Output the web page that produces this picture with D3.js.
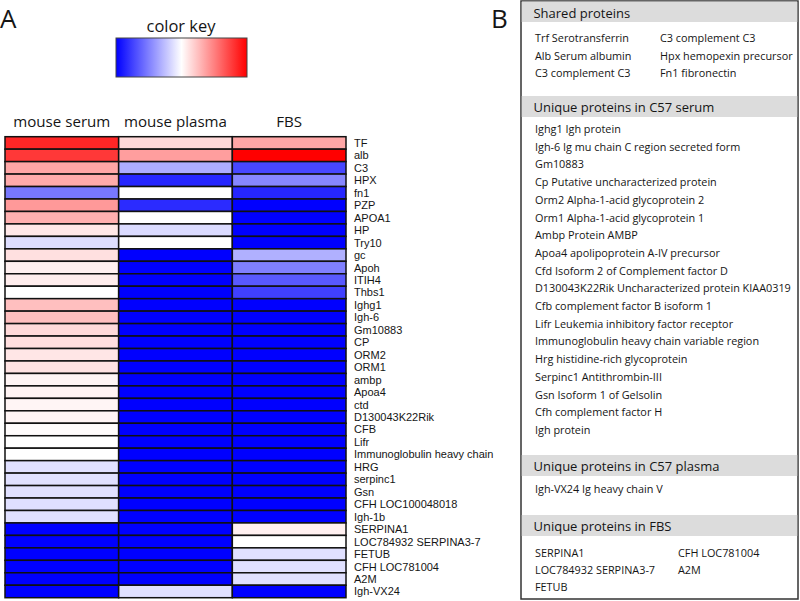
<!DOCTYPE html>
<html><head><meta charset="utf-8">
<script src="https://cdn.jsdelivr.net/npm/d3@7"></script>
<style>body{margin:0;background:#fff}svg{display:block}</style>
</head><body>
<script>
const samples = ["mouse serum", "mouse plasma", "FBS"];
const proteins = ["TF","alb","C3","HPX","fn1","PZP","APOA1","HP","Try10","gc","Apoh","ITIH4","Thbs1",
  "Ighg1","Igh-6","Gm10883","CP","ORM2","ORM1","ambp","Apoa4","ctd","D130043K22Rik","CFB","Lifr",
  "Immunoglobulin heavy chain","HRG","serpinc1","Gsn","CFH LOC100048018","Igh-1b","SERPINA1",
  "LOC784932 SERPINA3-7","FETUB","CFH LOC781004","A2M","Igh-VX24"];
// relative abundance, -1 (blue) .. 0 (white) .. 1 (red)
const serumValues = [0.85,0.78,0.35,0.33,-0.53,0.40,0.31,0.09,-0.13,0.12,0.06,0.07,0.00,
  0.25,0.25,0.15,0.13,0.10,0.11,0.04,0.045,0.04,0.04,0.01,0.0,0.0,-0.12,-0.12,-0.12,-0.12,-0.12,
  -1,-1,-1,-1,-1,-1];
const plasmaValues = [0.15,0.38,-0.32,-0.85,0.0,-0.83,0.0,-0.14,0.0,-1,-1,-1,-1,
  -1,-1,-1,-1,-1,-1,-1,-1,-1,-1,-1,-1,-1,-1,-1,-1,-1,-1,
  -1,-1,-1,-1,-1,-0.12];
const fbsValues = [0.35,1.0,-0.72,-0.47,-0.85,-1,-1,-1,-1,-0.31,-0.5,-0.65,-0.75,
  -1,-1,-1,-1,-1,-1,-1,-1,-1,-1,-1,-1,-1,-1,-1,-1,-1,-1,
  0.06,0.0,-0.12,-0.12,-0.12,-1];

const sharedProteins = ["Trf Serotransferrin","Alb Serum albumin","C3 complement C3",
  "C3 complement C3","Hpx hemopexin precursor","Fn1 fibronectin"];
const serumUnique = ["Ighg1 Igh protein","Igh-6 Ig mu chain C region secreted form","Gm10883",
  "Cp Putative uncharacterized protein","Orm2 Alpha-1-acid glycoprotein 2","Orm1 Alpha-1-acid glycoprotein 1",
  "Ambp Protein AMBP","Apoa4 apolipoprotein A-IV precursor","Cfd Isoform 2 of Complement factor D",
  "D130043K22Rik Uncharacterized protein KIAA0319","Cfb complement factor B isoform 1",
  "Lifr Leukemia inhibitory factor receptor","Immunoglobulin heavy chain variable region",
  "Hrg histidine-rich glycoprotein","Serpinc1 Antithrombin-III","Gsn Isoform 1 of Gelsolin",
  "Cfh complement factor H","Igh protein"];
const plasmaUnique = ["Igh-VX24 Ig heavy chain V"];
const fbsUnique = ["SERPINA1","LOC784932 SERPINA3-7","FETUB","CFH LOC781004","A2M"];

const W = 800, H = 601, FONT = "'Open Sans', sans-serif", LFONT = "'Liberation Sans', Arial, sans-serif", TXT = "#151515";
const svg = d3.select("body").append("svg").attr("width", W).attr("height", H)
  .style("font-family", FONT);

function fitSize(text, target, base, family) {
  const t = svg.append("text").attr("font-size", base).text(text);
  if (family) t.style("font-family", family);
  const w = t.node().getComputedTextLength();
  t.remove();
  return base * target / w;
}
const labelSize = Math.min(11, fitSize("Immunoglobulin heavy chain", 151, 12, LFONT));
const headSize = fitSize("mouse plasma", 103, 16);
const keySize = fitSize("color key", 69, 14);
const bHeadSize = fitSize("Unique proteins in C57 serum", 181, 15);
const bItemSize = fitSize("D130043K22Rik Uncharacterized protein KIAA0319", 256, 12);

// Panel letters
svg.append("text").attr("x", 0).attr("y", 28).attr("font-size", 26).attr("fill", TXT).text("A");
svg.append("text").attr("x", 491).attr("y", 28).attr("font-size", 26).attr("fill", TXT).text("B");

// colour scale
const color = d3.scaleLinear().domain([-1, 0, 1]).range(["#0000ff", "#ffffff", "#ff0000"]);

// colour key
const grad = svg.append("defs").append("linearGradient").attr("id", "ck");
d3.range(0, 1.0001, 0.05).forEach(t => grad.append("stop")
  .attr("offset", t).attr("stop-color", color(-1 + 2 * t)));
svg.append("text").attr("x", 181).attr("y", 32).attr("text-anchor", "middle")
  .attr("font-size", keySize).attr("fill", TXT).text("color key");
svg.append("rect").attr("x", 116).attr("y", 38).attr("width", 131).attr("height", 39)
  .attr("fill", "url(#ck)").attr("stroke", "#444").attr("stroke-width", 1);

// heatmap
const x = d3.scaleBand().domain(samples).range([5, 346]);
const y = d3.scaleBand().domain(proteins).range([136.7, 597.7]);
const seriesValues = [serumValues, plasmaValues, fbsValues];
const cells = [];
samples.forEach((s, i) => proteins.forEach((p, j) => cells.push({s, p, v: seriesValues[i][j]})));

svg.append("g").selectAll("rect").data(cells).join("rect")
  .attr("x", d => x(d.s)).attr("y", d => y(d.p))
  .attr("width", x.bandwidth()).attr("height", y.bandwidth())
  .attr("fill", d => color(d.v)).attr("stroke", "#111").attr("stroke-width", 1.5);

svg.append("g").selectAll("text").data(samples).join("text")
  .attr("x", d => x(d) + x.bandwidth() / 2).attr("y", 127)
  .attr("text-anchor", "middle").attr("font-size", headSize).attr("fill", TXT).text(d => d);

svg.append("g").style("font-family", LFONT).selectAll("text").data(proteins).join("text")
  .attr("x", 354).attr("y", d => y(d) + y.bandwidth() / 2 + 4)
  .attr("font-size", labelSize).attr("fill", TXT).text(d => d);

// Panel B
const bx0 = 521, bx1 = 798;
svg.append("rect").attr("x", bx0).attr("y", 1).attr("width", bx1 - bx0).attr("height", 598)
  .attr("fill", "#fff").attr("stroke", "#333").attr("stroke-width", 1.5);

const sections = [
  {title: "Shared proteins", band: 1.5, items: sharedProteins, rows: 3, first: 42, step: 17.5, col2: 660},
  {title: "Unique proteins in C57 serum", band: 96, items: serumUnique, rows: 18, first: 133, step: 17.7, col2: 0},
  {title: "Unique proteins in C57 plasma", band: 455, items: plasmaUnique, rows: 1, first: 493, step: 17, col2: 0},
  {title: "Unique proteins in FBS", band: 515, items: fbsUnique, rows: 3, first: 556.7, step: 17, col2: 678}
];
sections.forEach(sec => {
  const g = svg.append("g");
  g.append("rect").attr("x", bx0 + 0.75).attr("y", sec.band).attr("width", bx1 - bx0 - 1.5)
    .attr("height", sec.band < 5 ? 20.5 : 21).attr("fill", "#dcdcdc");
  g.append("text").attr("x", 533.5).attr("y", sec.band + 16).attr("font-size", bHeadSize)
    .attr("fill", TXT).text(sec.title);
  g.selectAll("text.item").data(sec.items).join("text").attr("class", "item")
    .attr("x", (d, i) => i < sec.rows ? 535 : sec.col2)
    .attr("y", (d, i) => sec.first + (i % sec.rows) * sec.step)
    .attr("font-size", bItemSize).attr("fill", TXT).text(d => d);
});
</script>
</body></html>
